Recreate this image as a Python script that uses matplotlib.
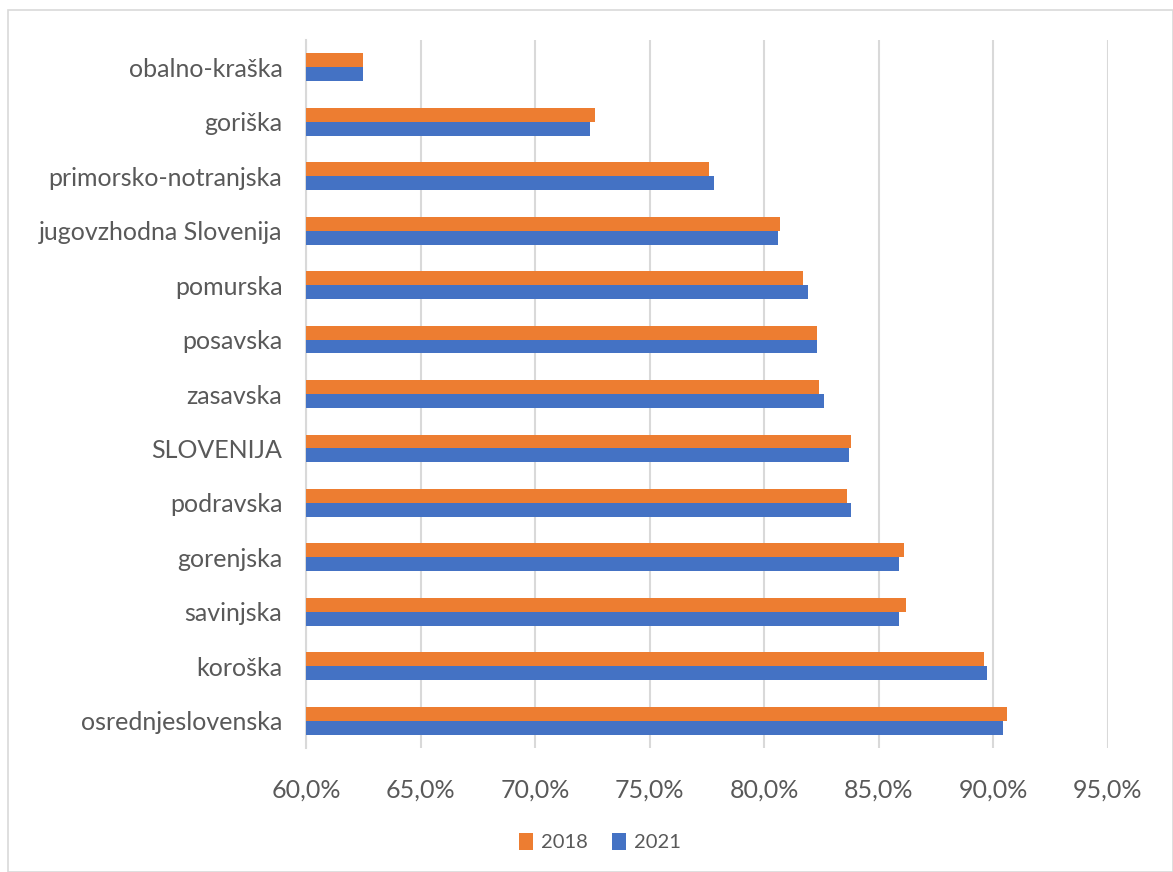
import matplotlib
matplotlib.use("Agg")
import matplotlib.pyplot as plt
from matplotlib.patches import Rectangle
import numpy as np

categories = ["obalno-kraška", "goriška", "primorsko-notranjska", "jugovzhodna Slovenija",
              "pomurska", "posavska", "zasavska", "SLOVENIJA", "podravska", "gorenjska",
              "savinjska", "koroška", "osrednjeslovenska"]
v2018 = [62.5, 72.6, 77.6, 80.7, 81.7, 82.3, 82.4, 83.8, 83.6, 86.1, 86.2, 89.6, 90.6]
v2021 = [62.5, 72.4, 77.8, 80.6, 81.9, 82.3, 82.6, 83.7, 83.8, 85.9, 85.9, 89.7, 90.4]
xticks = [60, 65, 70, 75, 80, 85, 90, 95]
series_names = ["2018", "2021"]

plt.rcParams['font.family'] = ['Lato', 'DejaVu Sans']

W, H = 1173, 872
fig = plt.figure(figsize=(W / 100, H / 100), dpi=100)
fig.patch.set_facecolor("white")
fig.patches.append(Rectangle((8 / W, 0), 1 - 8 / W - 0.5 / W, 1 - 10 / H, transform=fig.transFigure,
                             fill=False, edgecolor="#D9D9D9", linewidth=1.2))

ax = fig.add_axes([306 / W, 1 - 748 / H, (1108 - 306) / W, (748 - 40) / H])
y = np.arange(len(categories))
h = 0.256
ax.barh(y - h / 2, [v - 60 for v in v2018], left=60, height=h, color="#ED7D31", label=series_names[0], zorder=3)
ax.barh(y + h / 2, [v - 60 for v in v2021], left=60, height=h, color="#4472C4", label=series_names[1], zorder=3)

ax.set_xlim(60, 95)
ax.set_ylim(len(categories) - 0.5, -0.5)
ax.set_xticks(xticks)
ax.set_xticklabels([f"{t:.1f}".replace(".", ",") + "%" for t in xticks])
ax.set_yticks(y)
ax.set_yticklabels(categories)
ax.grid(axis="x", color="#D9D9D9", linewidth=1.5, zorder=0)
for s in ["top", "right", "bottom"]:
    ax.spines[s].set_visible(False)
ax.spines["left"].set_color("#D9D9D9")
ax.spines["left"].set_linewidth(1.5)
ax.tick_params(axis="both", length=0, labelcolor="#595959", labelsize=18)
ax.tick_params(axis="x", pad=22)
ax.tick_params(axis="y", pad=17)

leg = fig.legend(loc="center", bbox_to_anchor=(600 / W, 1 - 842 / H), ncol=2, frameon=False,
                 fontsize=14.5, handlelength=0.7, handleheight=0.9, handletextpad=0.4, columnspacing=1.2)
for t in leg.get_texts():
    t.set_color("#595959")

fig.savefig("out.png", dpi=100)
